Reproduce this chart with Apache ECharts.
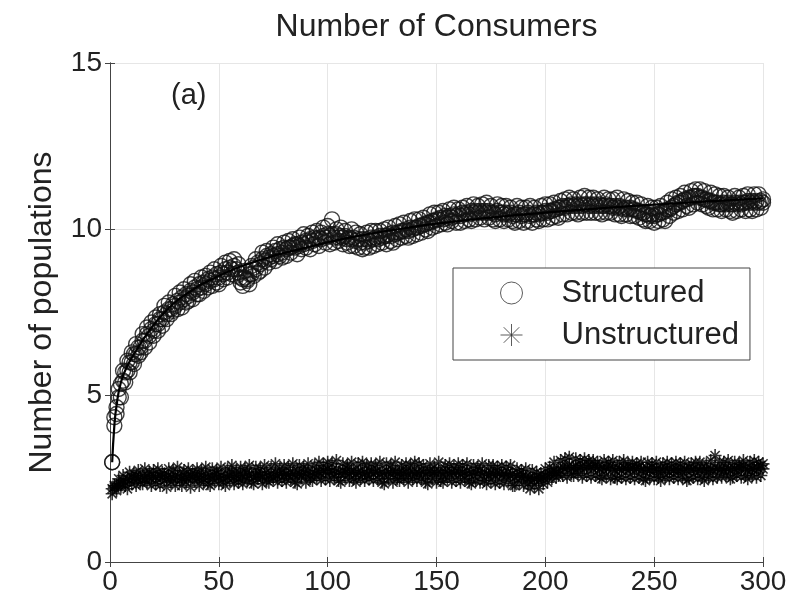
<!DOCTYPE html>
<html>
<head>
<meta charset="utf-8">
<script src="https://cdn.jsdelivr.net/npm/echarts@6/dist/echarts.min.js"></script>
<style>html,body{margin:0;padding:0;background:#fff;}#c{width:795px;height:608px;}</style>
</head>
<body>
<div id="c"></div>
<script>
const titleText = 'Number of Consumers';
const yName = 'Number of populations';
const panelLabel = '(a)';
const seriesNames = ['Structured', 'Unstructured'];
const xTicks = [0, 50, 100, 150, 200, 250, 300];
const yTicks = [0, 5, 10, 15];

const steps = [
1,2,3,4,5,6,7,8,9,10,11,12,13,14,15,16,17,18,19,20,
21,22,23,24,25,26,27,28,29,30,31,32,33,34,35,36,37,38,39,40,
41,42,43,44,45,46,47,48,49,50,51,52,53,54,55,56,57,58,59,60,
61,62,63,64,65,66,67,68,69,70,71,72,73,74,75,76,77,78,79,80,
81,82,83,84,85,86,87,88,89,90,91,92,93,94,95,96,97,98,99,100,
101,102,103,104,105,106,107,108,109,110,111,112,113,114,115,116,117,118,119,120,
121,122,123,124,125,126,127,128,129,130,131,132,133,134,135,136,137,138,139,140,
141,142,143,144,145,146,147,148,149,150,151,152,153,154,155,156,157,158,159,160,
161,162,163,164,165,166,167,168,169,170,171,172,173,174,175,176,177,178,179,180,
181,182,183,184,185,186,187,188,189,190,191,192,193,194,195,196,197,198,199,200,
201,202,203,204,205,206,207,208,209,210,211,212,213,214,215,216,217,218,219,220,
221,222,223,224,225,226,227,228,229,230,231,232,233,234,235,236,237,238,239,240,
241,242,243,244,245,246,247,248,249,250,251,252,253,254,255,256,257,258,259,260,
261,262,263,264,265,266,267,268,269,270,271,272,273,274,275,276,277,278,279,280,
281,282,283,284,285,286,287,288,289,290,291,292,293,294,295,296,297,298,299,300];

// Structured, run A (outer spread)
const structuredA = [
3.0,4.35,4.45,5.2,4.95,5.75,5.4,6.05,5.7,6.3,5.95,6.55,6.2,6.3,6.85,6.45,7.05,6.6,7.2,6.8,
7.35,6.95,7.45,7.1,7.7,7.3,7.8,7.45,7.55,8.0,7.6,8.1,7.65,8.2,7.8,7.85,8.35,7.9,8.45,8.05,
8.05,8.55,8.15,8.6,8.25,8.7,8.3,8.8,8.4,8.35,8.9,8.5,9.0,8.55,9.05,8.65,9.1,8.6,8.95,8.4,
8.3,8.75,8.45,8.35,8.9,8.6,9.1,8.7,8.75,9.3,8.85,9.35,9.0,9.1,9.45,9.05,9.55,9.2,9.15,9.6,
9.2,9.65,9.3,9.7,9.55,9.25,9.75,9.4,9.85,9.45,9.8,9.4,9.9,9.55,9.95,9.5,9.9,10.05,9.6,10.1,
9.55,10.3,9.6,10.0,9.65,10.05,9.55,9.95,9.6,9.5,10.0,9.5,9.9,9.45,9.85,9.4,9.45,9.9,9.45,9.95,
9.5,9.95,9.55,9.95,9.6,10.0,9.55,10.05,9.65,9.6,10.1,9.7,10.15,9.75,10.2,9.8,9.75,10.25,9.8,10.3,
9.85,10.3,9.9,10.35,10.0,9.95,10.45,10.05,10.5,10.1,10.5,10.15,10.55,10.2,10.15,10.6,10.25,10.65,10.2,10.6,
10.2,10.65,10.25,10.7,10.3,10.25,10.75,10.3,10.7,10.35,10.75,10.3,10.8,10.35,10.7,10.3,10.25,10.75,10.3,10.7,
10.25,10.7,10.3,10.65,10.25,10.2,10.7,10.25,10.65,10.2,10.65,10.25,10.7,10.2,10.65,10.3,10.25,10.7,10.3,10.75,
10.3,10.75,10.35,10.8,10.4,10.35,10.85,10.45,10.9,10.45,10.95,10.5,10.9,10.5,10.45,10.95,10.5,11.0,10.5,10.95,
10.5,10.95,10.5,10.9,10.5,10.45,10.95,10.5,10.9,10.5,10.9,10.45,10.95,10.45,10.4,10.9,10.45,10.85,10.4,10.8,
10.4,10.8,10.35,10.75,10.3,10.25,10.7,10.25,10.65,10.2,10.65,10.25,10.7,10.3,10.25,10.8,10.4,10.9,10.5,10.95,
10.55,11.0,10.6,11.1,10.7,10.65,11.15,10.75,11.2,10.8,11.2,10.75,11.15,10.7,10.65,11.1,10.6,11.05,10.6,11.0,
10.55,11.0,10.6,10.95,10.55,10.5,11.0,10.55,10.95,10.6,11.0,10.55,11.05,10.6,10.55,11.05,10.6,11.05,10.65,10.9];

// Structured, run B (near the centre)
const structuredB = [
3.0,4.1,4.65,4.95,5.35,5.45,5.7,5.75,6.0,6.0,6.25,6.25,6.45,6.45,6.65,6.65,6.85,6.8,7.0,6.95,
7.15,7.15,7.3,7.3,7.5,7.45,7.6,7.6,7.75,7.7,7.85,7.8,7.95,7.9,8.05,8.0,8.15,8.1,8.25,8.2,
8.35,8.25,8.4,8.35,8.5,8.45,8.55,8.5,8.65,8.55,8.7,8.65,8.8,8.7,8.85,8.8,8.9,8.8,8.7,8.55,
8.5,8.55,8.5,8.65,8.65,8.85,8.8,9.0,8.95,9.1,9.05,9.2,9.15,9.25,9.2,9.35,9.25,9.4,9.3,9.45,
9.4,9.45,9.45,9.5,9.45,9.55,9.5,9.6,9.55,9.65,9.6,9.7,9.65,9.75,9.7,9.75,9.7,9.8,9.75,9.85,
9.8,9.85,9.75,9.85,9.75,9.8,9.75,9.8,9.7,9.75,9.7,9.75,9.65,9.7,9.6,9.7,9.6,9.7,9.65,9.75,
9.7,9.75,9.7,9.8,9.75,9.8,9.8,9.85,9.8,9.9,9.85,9.9,9.9,9.95,9.95,10.0,9.95,10.05,10.0,10.05,
10.05,10.1,10.1,10.15,10.15,10.2,10.2,10.25,10.25,10.3,10.3,10.35,10.3,10.4,10.35,10.4,10.35,10.45,10.4,10.45,
10.4,10.5,10.45,10.5,10.45,10.55,10.5,10.55,10.5,10.55,10.5,10.55,10.5,10.55,10.5,10.5,10.45,10.55,10.5,10.5,
10.45,10.5,10.45,10.5,10.4,10.45,10.45,10.5,10.4,10.45,10.45,10.5,10.4,10.45,10.45,10.5,10.45,10.5,10.5,10.55,
10.5,10.55,10.55,10.6,10.6,10.65,10.65,10.7,10.65,10.7,10.7,10.75,10.7,10.75,10.7,10.75,10.7,10.75,10.75,10.7,
10.75,10.7,10.75,10.7,10.75,10.7,10.7,10.75,10.7,10.7,10.65,10.7,10.65,10.7,10.65,10.6,10.65,10.6,10.65,10.6,
10.6,10.55,10.55,10.5,10.5,10.45,10.45,10.4,10.45,10.4,10.45,10.45,10.5,10.5,10.55,10.6,10.6,10.65,10.7,10.75,
10.8,10.8,10.85,10.9,10.9,10.95,10.95,11.0,11.0,11.0,10.95,10.95,10.9,10.9,10.85,10.85,10.8,10.8,10.8,10.75,
10.75,10.8,10.75,10.8,10.75,10.75,10.8,10.75,10.8,10.75,10.8,10.8,10.85,10.8,10.85,10.8,10.85,10.8,10.85,10.8];

// Unstructured, run A (outer spread)
const unstructuredA = [
2.05,2.3,2.15,2.5,2.25,2.6,2.3,2.2,2.7,2.35,2.65,2.3,2.75,2.4,2.35,2.8,2.4,2.7,2.3,2.75,
2.35,2.8,2.3,2.7,2.45,2.25,2.8,2.4,2.75,2.3,2.85,2.45,2.3,2.75,2.4,2.8,2.25,2.7,2.45,2.8,
2.3,2.75,2.4,2.85,2.35,2.3,2.8,2.45,2.75,2.35,2.85,2.4,2.3,2.8,2.45,2.9,2.35,2.75,2.4,2.85,
2.35,2.8,2.45,2.9,2.4,2.35,2.85,2.5,2.8,2.35,2.9,2.45,2.4,2.85,2.5,2.95,2.4,2.8,2.45,2.9,
2.4,2.85,2.5,2.95,2.4,2.35,2.9,2.55,2.85,2.4,2.95,2.5,2.45,2.9,2.55,3.0,2.45,2.9,2.5,3.0,
2.45,2.95,2.55,3.05,2.45,2.4,2.95,2.55,2.9,2.45,3.0,2.5,2.4,2.95,2.5,3.0,2.45,2.9,2.5,2.95,
2.45,2.9,2.5,3.0,2.4,2.35,2.95,2.5,2.9,2.4,3.0,2.5,2.45,2.9,2.5,2.95,2.4,2.9,2.5,3.0,
2.45,2.95,2.5,2.9,2.4,2.35,2.95,2.5,2.85,2.4,3.0,2.45,2.4,2.9,2.5,2.95,2.4,2.85,2.45,2.95,
2.4,2.9,2.5,2.95,2.4,2.35,2.9,2.45,2.85,2.4,2.95,2.45,2.35,2.9,2.45,2.9,2.35,2.85,2.4,2.9,
2.35,2.85,2.45,2.9,2.3,2.3,2.8,2.4,2.75,2.3,2.8,2.35,2.2,2.75,2.3,2.7,2.2,2.65,2.35,2.8,
2.4,2.85,2.5,3.0,2.55,2.6,3.05,2.6,3.1,2.55,3.15,2.65,2.6,3.1,2.65,3.05,2.55,3.1,2.6,3.05,
2.55,3.05,2.6,3.0,2.55,2.5,3.05,2.6,3.0,2.5,3.05,2.55,2.5,3.0,2.55,3.05,2.5,2.95,2.55,3.0,
2.5,2.95,2.55,3.0,2.5,2.45,3.0,2.55,2.95,2.5,3.0,2.55,2.45,2.95,2.55,3.0,2.5,2.95,2.55,3.0,
2.5,2.95,2.55,3.0,2.45,2.5,2.95,2.55,3.0,2.5,3.0,2.55,2.45,2.95,2.55,3.05,2.5,3.2,2.55,3.0,
2.55,3.0,2.6,3.05,2.5,2.55,3.0,2.6,2.95,2.55,3.05,2.6,2.5,3.0,2.6,3.05,2.55,3.0,2.6,2.95];

// Unstructured, run B (near the centre)
const unstructuredB = [
2.2,2.25,2.3,2.35,2.35,2.45,2.4,2.5,2.45,2.55,2.5,2.6,2.5,2.55,2.6,2.5,2.6,2.55,2.5,2.6,
2.55,2.5,2.6,2.55,2.65,2.5,2.6,2.55,2.5,2.6,2.55,2.65,2.5,2.6,2.55,2.5,2.6,2.55,2.65,2.5,
2.55,2.6,2.5,2.65,2.55,2.6,2.5,2.6,2.65,2.55,2.6,2.5,2.65,2.55,2.6,2.7,2.55,2.6,2.5,2.65,
2.6,2.55,2.7,2.6,2.65,2.55,2.6,2.7,2.6,2.55,2.65,2.7,2.6,2.65,2.55,2.7,2.6,2.65,2.7,2.6,
2.65,2.6,2.7,2.65,2.6,2.75,2.65,2.6,2.7,2.65,2.75,2.6,2.7,2.65,2.75,2.7,2.65,2.75,2.7,2.8,
2.7,2.75,2.65,2.8,2.7,2.65,2.75,2.7,2.8,2.65,2.7,2.75,2.65,2.7,2.75,2.65,2.7,2.6,2.75,2.7,
2.65,2.7,2.75,2.65,2.7,2.6,2.75,2.7,2.65,2.75,2.7,2.65,2.7,2.75,2.65,2.7,2.6,2.75,2.7,2.65,
2.7,2.65,2.75,2.7,2.6,2.7,2.75,2.65,2.7,2.65,2.75,2.7,2.6,2.7,2.75,2.65,2.7,2.65,2.75,2.7,
2.65,2.7,2.6,2.75,2.65,2.7,2.6,2.7,2.65,2.75,2.6,2.7,2.65,2.6,2.7,2.65,2.6,2.7,2.65,2.6,
2.65,2.6,2.7,2.6,2.65,2.55,2.6,2.65,2.55,2.6,2.55,2.5,2.55,2.45,2.5,2.55,2.45,2.5,2.55,2.6,
2.6,2.65,2.7,2.75,2.7,2.8,2.75,2.85,2.8,2.85,2.9,2.8,2.85,2.9,2.8,2.85,2.9,2.8,2.85,2.9,
2.85,2.8,2.9,2.85,2.8,2.85,2.75,2.85,2.8,2.9,2.8,2.75,2.85,2.8,2.75,2.85,2.8,2.75,2.8,2.85,
2.75,2.8,2.85,2.75,2.8,2.7,2.8,2.75,2.85,2.75,2.8,2.7,2.8,2.75,2.85,2.75,2.7,2.8,2.75,2.8,
2.75,2.8,2.7,2.8,2.75,2.85,2.75,2.8,2.7,2.8,2.75,2.85,2.75,2.8,2.7,2.8,2.75,2.85,2.8,2.75,
2.8,2.75,2.85,2.8,2.75,2.85,2.8,2.75,2.85,2.8,2.9,2.8,2.75,2.85,2.8,2.75,2.85,2.8,2.9,2.8];

const fitX = [1,2,3,5,8,12,17,25,35,50,70,90,110,130,150,175,200,225,250,275,300];
const fitY = [3.0,4.1,4.7,5.4,5.9,6.35,6.85,7.5,8.05,8.6,9.1,9.45,9.75,9.98,10.17,10.35,10.5,10.63,10.74,10.84,10.93];

const FONT = "'Liberation Sans', Arial, Helvetica, sans-serif";
const pair = (xs, ys) => ys.map((y, i) => [xs[i], y]);
const asterisk = 'path://M0,-10L0,10M-10,0L10,0M-7.07,-7.07L7.07,7.07M-7.07,7.07L7.07,-7.07';

const axisCommon = {
  axisLine: { show: true, lineStyle: { color: '#444', width: 1 } },
  axisTick: { show: true, inside: true, length: 5, lineStyle: { color: '#444' } },
};

const chart = echarts.init(document.getElementById('c'), null, { renderer: 'canvas' });
chart.setOption({
  animation: false,
  backgroundColor: '#fff',
  grid: { left: 110, right: 32, top: 63, bottom: 46, show: false },
  title: {
    text: panelLabel, left: 166, top: 76,
    textStyle: { fontFamily: FONT, fontSize: 29, fontWeight: 'normal', color: '#222' }
  },
  legend: {
    orient: 'vertical', left: 453, top: 268,
    padding: [8, 11, 8, 47],
    itemGap: 8, itemWidth: 22, itemHeight: 22,
    backgroundColor: '#fff', borderColor: '#444', borderWidth: 1, borderRadius: 0,
    data: [
      { name: seriesNames[0], itemStyle: { borderWidth: 1, borderColor: '#333' } },
      { name: seriesNames[1], itemStyle: { borderWidth: 1, borderColor: '#333' } }
    ],
    textStyle: { fontFamily: FONT, fontSize: 31, color: '#222', padding: [0, 0, 0, 34], lineHeight: 34 }
  },
  xAxis: [{
    type: 'value', min: xTicks[0], max: xTicks[xTicks.length - 1], interval: 50,
    ...axisCommon,
    axisLabel: { fontFamily: FONT, fontSize: 28, color: '#222', margin: 6 },
    splitLine: { show: true, lineStyle: { color: '#e6e6e6', width: 1 } }
  }, {
    type: 'value', position: 'top', min: 0, max: 300, interval: 50,
    ...axisCommon,
    axisLabel: { show: false }, splitLine: { show: false },
    name: titleText, nameLocation: 'middle', nameGap: 20,
    nameTextStyle: { fontFamily: FONT, fontSize: 32, color: '#222' }
  }],
  yAxis: [{
    type: 'value', min: yTicks[0], max: yTicks[yTicks.length - 1], interval: 5,
    ...axisCommon,
    axisLabel: { fontFamily: FONT, fontSize: 28, color: '#222', margin: 8 },
    splitLine: { show: true, lineStyle: { color: '#e6e6e6', width: 1 } },
    name: yName, nameLocation: 'middle', nameGap: 52,
    nameTextStyle: { fontFamily: FONT, fontSize: 32, color: '#222' }
  }, {
    type: 'value', position: 'right', min: 0, max: 15, interval: 5,
    ...axisCommon,
    axisLabel: { show: false }, splitLine: { show: false }
  }],
  series: [{
    name: seriesNames[0], type: 'scatter', symbol: 'circle', symbolSize: 15,
    data: pair(steps, structuredA).concat(pair(steps, structuredB)),
    itemStyle: { color: 'rgba(0,0,0,0)', borderColor: '#111', borderWidth: 1.4 },
    z: 3
  }, {
    name: seriesNames[1], type: 'scatter', symbol: asterisk, symbolSize: 13,
    data: pair(steps, unstructuredA).concat(pair(steps, unstructuredB)),
    itemStyle: { color: 'rgba(0,0,0,0)', borderColor: '#000', borderWidth: 1.6 },
    z: 3
  }, {
    name: 'fit', type: 'line', smooth: true, showSymbol: false,
    data: pair(fitX, fitY),
    lineStyle: { color: '#000', width: 2.2 },
    z: 4
  }]
});
</script>
</body>
</html>
